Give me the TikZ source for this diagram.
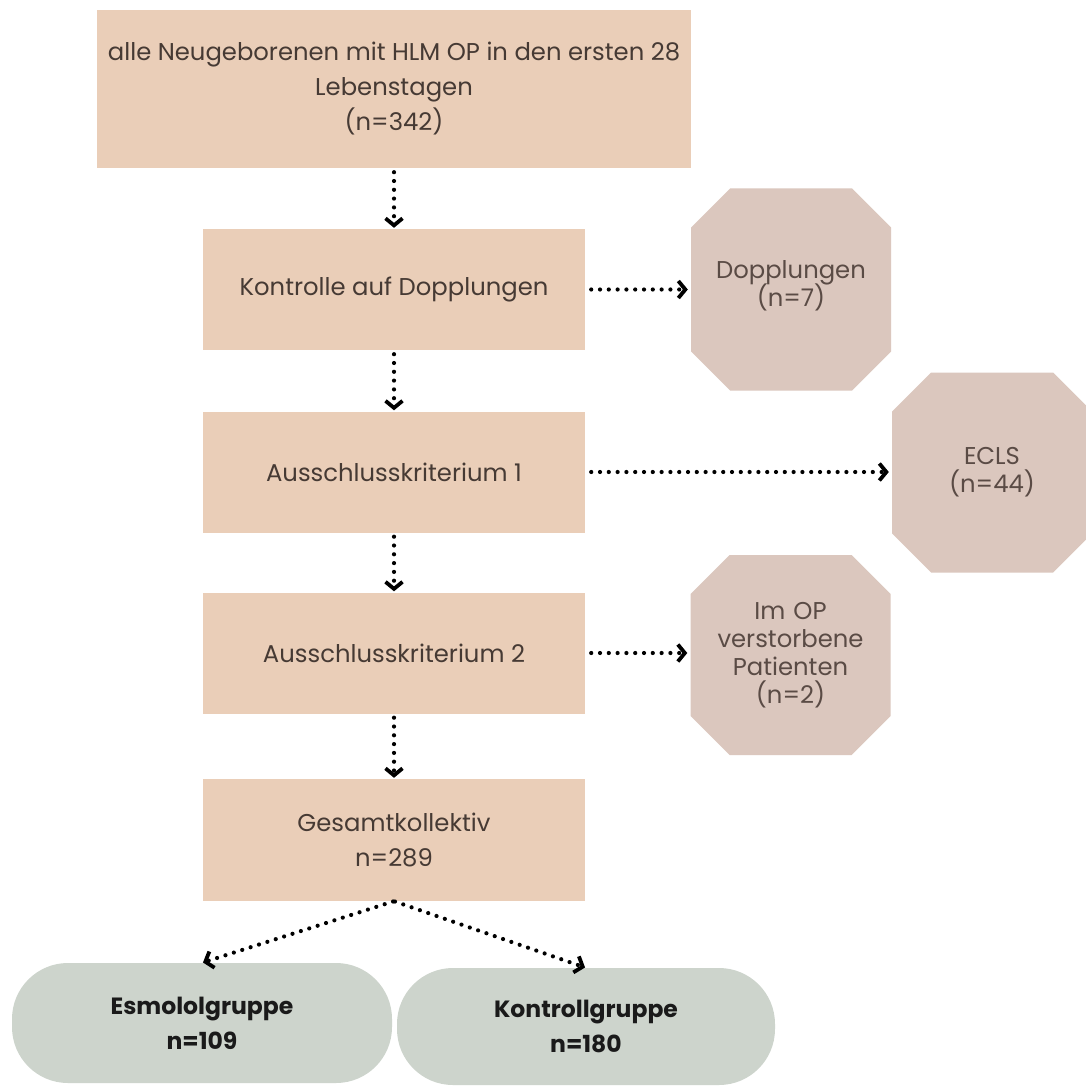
\documentclass[tikz,border=0pt]{standalone}
\usepackage{fontspec}
\setmainfont{Poppins}
\usetikzlibrary{arrows.meta}
\definecolor{peach}{HTML}{EACEB8}
\definecolor{mauve}{HTML}{DBC7BE}
\definecolor{sage}{HTML}{CDD4CC}
\definecolor{boxtext}{HTML}{463A34}
\definecolor{octtext}{HTML}{5A4B45}
\definecolor{pilltext}{HTML}{1A1A1A}
\begin{document}
\begin{tikzpicture}[x=1pt,y=-1pt,
  stepbox/.style={fill=peach, draw=none, inner sep=0pt, align=center,
    text=boxtext, minimum width=382pt, minimum height=121pt,
    font=\fontsize{24.3}{35}\selectfont},
  octbox/.style={rectangle, draw=none, inner sep=0pt, align=center,
    text=octtext, text width=200pt, minimum height=200pt,
    font=\fontsize{24.3}{28}\selectfont,
    path picture={\fill[mauve]
      ([xshift=39pt]path picture bounding box.north west) --
      ([xshift=-39pt]path picture bounding box.north east) --
      ([yshift=-39pt]path picture bounding box.north east) --
      ([yshift=39pt]path picture bounding box.south east) --
      ([xshift=-39pt]path picture bounding box.south east) --
      ([xshift=39pt]path picture bounding box.south west) --
      ([yshift=39pt]path picture bounding box.south west) --
      ([yshift=-39pt]path picture bounding box.north west) -- cycle;}},
  pillbox/.style={fill=sage, draw=none, rounded corners=56pt, inner sep=0pt,
    align=center, text=pilltext, font=\fontsize{23.5}{35}\selectfont\bfseries},
  conn/.style={line width=4.2pt, line cap=round, dash pattern=on 0pt off 8.8pt,
    -{Straight Barb[length=7pt,width=17pt,line width=3.8pt]}}
]
\useasboundingbox[fill=white] (0,0) rectangle (1085,1086);

\node[stepbox, minimum width=594pt, minimum height=158pt] (top) at (394,89)
  {alle Neugeborenen mit HLM OP in den ersten 28\\Lebenstagen\\(n=342)};
\node[stepbox] (kd) at (394,289.5) {Kontrolle auf Dopplungen};
\node[stepbox] (a1) at (394,472) {Ausschlusskriterium 1};
\node[stepbox] (a2) at (394,653) {Ausschlusskriterium 2};
\node[stepbox, minimum height=122pt] (ges) at (394,840) {Gesamtkollektiv\\n=289};

\node[octbox, minimum height=202pt] (dop) at (791,289.5)
  {Dopplungen\\[-3pt](n=7)\\[-16pt]\mbox{}};
\node[octbox] (ecls) at (992,472.5) {ECLS\\(n=44)};
\node[octbox] (tot) at (790.5,655) {Im OP\\verstorbene\\Patienten\\(n=2)};

\node[pillbox, minimum width=380pt, minimum height=120pt] (esm) at (202,1023) {Esmololgruppe\\n=109};
\node[pillbox, minimum width=378pt, minimum height=117pt] (kon) at (586,1026.5) {Kontrollgruppe\\n=180};

\draw[conn, shorten <=4pt, shorten >=1pt] (top) -- (kd);
\draw[conn, shorten <=4pt, shorten >=1pt] (kd) -- (a1);
\draw[conn, shorten <=4pt, shorten >=1pt] (a1) -- (a2);
\draw[conn, shorten <=4pt, shorten >=1pt] (a2) -- (ges);
\draw[conn, shorten <=6pt, shorten >=3pt] (kd.east) -- (dop.west |- kd.east);
\draw[conn, shorten <=6pt, shorten >=3pt] (a1.east) -- (ecls.west |- a1.east);
\draw[conn, shorten <=6pt, shorten >=3pt] (a2.east) -- (tot.west |- a2.east);
\draw[conn, shorten <=1pt, shorten >=1pt] (ges.south) -- (esm.north);
\draw[conn, shorten <=1pt, shorten >=1pt] (ges.south) -- (kon.north);
\end{tikzpicture}
\end{document}
